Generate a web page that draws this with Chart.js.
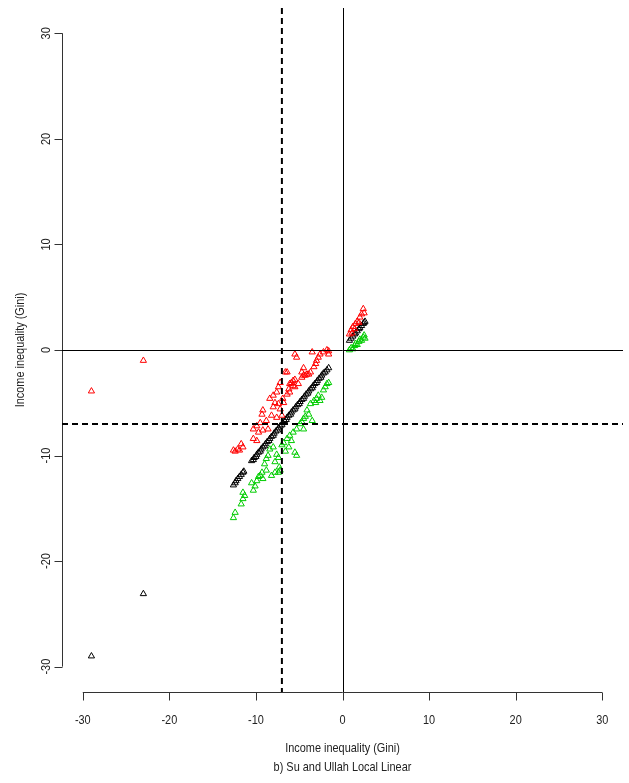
<!DOCTYPE html>
<html>
<head>
<meta charset="utf-8">
<script src="https://cdn.jsdelivr.net/npm/chart.js@4"></script>
<style>
  html, body { margin: 0; padding: 0; background: #fff; }
  #wrap { width: 629px; height: 783px; }
</style>
</head>
<body>
<div id="wrap"><canvas id="chart" width="629" height="783"></canvas></div>
<script>
const xTicks = [-30, -20, -10, 0, 10, 20, 30];
const yTicks = [-30, -20, -10, 0, 10, 20, 30];
const xTitle = "Income inequality (Gini)";
const yTitle = "Income inequality (Gini)";
const subTitle = "b) Su and Ullah Local Linear";

// black: the estimate
const blackX = [-29, -23,
  -12.6, -12.4, -12.3, -12.1, -11.9, -11.7, -11.5, -11.4,
  -10.5, -10.3, -10.2, -10.0, -9.9, -9.7, -9.5, -9.4, -9.2, -9.0, -8.9, -8.7, -8.5, -8.4, -8.2, -8.0,
  -7.9, -7.7, -7.5, -7.4, -7.2, -7.0, -6.9, -6.7, -6.5, -6.4, -6.2, -6.0, -5.9, -5.7, -5.5, -5.4,
  -5.2, -5.0, -4.9, -4.7, -4.5, -4.4, -4.2, -4.0, -3.9, -3.7, -3.5, -3.4, -3.2, -3.0, -2.9, -2.7,
  -2.5, -2.4, -2.2, -2.0, -1.8, -1.6,
  0.8, 1.0, 1.2, 1.4, 1.5, 1.7, 1.9, 2.0, 2.2, 2.4, 2.5, 2.6];
const blackY = [-29.0, -23.1,
  -12.8, -12.6, -12.4, -12.2, -12.0, -11.8, -11.6, -11.5,
  -10.5, -10.4, -10.2, -10.1, -9.9, -9.7, -9.6, -9.4, -9.2, -9.1, -8.9, -8.7, -8.6, -8.4, -8.2, -8.1,
  -7.9, -7.7, -7.6, -7.4, -7.2, -7.1, -6.9, -6.7, -6.6, -6.4, -6.2, -6.1, -5.9, -5.7, -5.6, -5.4,
  -5.2, -5.1, -4.9, -4.7, -4.6, -4.4, -4.2, -4.1, -3.9, -3.7, -3.6, -3.4, -3.2, -3.1, -2.9, -2.7,
  -2.6, -2.4, -2.2, -2.1, -1.9, -1.7,
  0.9, 1.1, 1.3, 1.5, 1.6, 1.8, 2.0, 2.1, 2.3, 2.5, 2.6, 2.7];

// red: upper band
const redX = [-29, -23,
  -1.6, -1.8, -2.2, -2.6, -1.6, -2.8, -3.0, -3.1, -3.3, -3.5, -3.7, -3.9, -4.1, -4.3, -4.5, -4.7,
  -4.5, -4.7, -5.5, -5.3, -5.1, -5.5, -5.5, -5.7, -5.9, -6.1, -5.7, -6.2, -6.1, -6.4, -6.4, -6.6,
  -6.8, -7.2, -7.4, -7.6, -8.0, -8.4, -7.8, -7.4, -7.2, -9.2, -9.3, -8.8, -9.5, -9.9, -10.3, -9.7,
  -9.2, -8.6, -10.3, -9.9, -11.7, -11.5, -12.1, -12.6, -12.4, -11.9, -8.2, -7.6, -7.0, -8.0, -6.9,
  0.8, 1.0, 1.1, 1.2, 1.4, 1.5, 1.7, 1.9, 2.0, 2.2, 2.4, 2.5];
const redY = [-3.9, -1.0,
  -0.1, 0.0, -0.2, -0.4, -0.4, -0.7, -1.0, -1.3, -1.6, -0.2, -2.1, -2.3, -2.3, -2.4, -2.4, -2.1,
  -1.7, -2.6, -0.4, -0.7, -3.2, -3.5, -2.8, -2.9, -3.1, -3.2, -3.4, -3.7, -4.0, -4.2, -2.1, -2.1,
  -5.0, -3.1, -3.5, -4.0, -4.3, -4.6, -5.0, -5.1, -5.6, -5.7, -6.1, -6.7, -6.9, -7.2, -7.5, -7.8,
  -7.6, -7.5, -8.4, -8.6, -8.9, -9.2, -9.4, -9.5, -9.6, -9.5, -6.2, -6.4, -6.2, -5.4, -4.6,
  1.5, 1.9, 1.6, 2.2, 2.0, 2.5, 2.7, 2.6, 3.1, 3.4, 3.9, 3.5];

// green: lower band
const greenX = [
  -12.6, -12.4, -11.7, -11.5, -11.3, -11.5, -10.3, -10.1, -9.9, -9.5, -9.2, -9.3, -8.8, -8.2, -7.8,
  -7.4, -7.2, -9.0, -8.8, -8.4, -8.0, -7.6, -7.4, -6.8, -6.4, -6.1, -5.7, -5.3, -4.9, -4.5, -4.1,
  -3.7, -3.3, -3.0, -2.6, -2.4, -2.0, -1.8, -1.6, -5.5, -5.3, -4.5, -3.5, -3.9, -6.6, -7.0, -6.2,
  -5.9, -4.7, -4.3, -3.1, -2.8, -2.2, -8.6, -7.8, -10.5, -9.7, -7.3,
  0.8, 1.0, 1.2, 1.4, 1.5, 1.7, 1.9, 2.0, 2.2, 2.4, 2.5, 2.6];
const greenY = [
  -15.9, -15.4, -14.6, -14.1, -13.8, -13.5, -13.3, -12.9, -12.4, -11.9, -12.2, -11.6, -11.4, -11.9, -11.6,
  -11.6, -11.4, -10.8, -10.3, -9.4, -9.2, -9.9, -10.2, -8.8, -8.4, -8.1, -7.8, -7.5, -7.0, -6.5, -5.7,
  -5.1, -4.8, -4.6, -4.8, -4.5, -3.5, -3.2, -3.1, -9.7, -10.0, -7.5, -6.7, -6.1, -9.6, -9.0, -9.2,
  -8.6, -6.8, -6.3, -5.0, -4.3, -3.8, -10.0, -10.6, -12.6, -12.0, -11.1,
  0.0, 0.2, 0.1, 0.4, 0.6, 0.5, 0.8, 1.0, 0.9, 1.2, 1.4, 1.1];

const solidX = [0];
const solidY = [0];
const dashX = [-7];
const dashY = [-7];

const FONT = "'Liberation Sans', Arial, sans-serif";

function pts(xs, ys) {
  return xs.map((x, i) => ({ x: x, y: ys[i] }));
}

function series(label, xs, ys, color) {
  return {
    label: label,
    data: pts(xs, ys),
    pointStyle: 'triangle',
    pointRadius: 3.6,
    pointHoverRadius: 3.6,
    pointBorderWidth: 1,
    borderColor: color,
    backgroundColor: 'rgba(0,0,0,0)',
    showLine: false
  };
}

// narrow text like the R device: squeeze horizontally
function narrowText(ctx, txt, x, y, rot) {
  ctx.save();
  ctx.translate(x, y);
  if (rot) ctx.rotate(rot);
  ctx.scale(0.84, 1);
  ctx.fillText(txt, 0, 0);
  ctx.restore();
}

const rAxes = {
  id: 'rAxes',
  beforeDatasetsDraw(chart) {
    const ctx = chart.ctx;
    const xs = chart.scales.x, ys = chart.scales.y;
    const area = chart.chartArea;
    ctx.save();
    ctx.strokeStyle = '#333';
    ctx.fillStyle = '#222';
    ctx.lineWidth = 1;
    ctx.font = '13px ' + FONT;

    // x axis
    const yb = area.bottom + 0.5;
    ctx.beginPath();
    ctx.moveTo(xs.getPixelForValue(xTicks[0]), yb);
    ctx.lineTo(xs.getPixelForValue(xTicks[xTicks.length - 1]), yb);
    xTicks.forEach(t => {
      const px = Math.round(xs.getPixelForValue(t)) + 0.5;
      ctx.moveTo(px, yb);
      ctx.lineTo(px, yb + 8);
    });
    ctx.stroke();
    ctx.textAlign = 'center';
    ctx.textBaseline = 'middle';
    xTicks.forEach(t => {
      narrowText(ctx, String(t), xs.getPixelForValue(t), area.bottom + 28, 0);
    });

    // y axis
    const xl = area.left + 0.5;
    ctx.beginPath();
    ctx.moveTo(xl, ys.getPixelForValue(yTicks[0]));
    ctx.lineTo(xl, ys.getPixelForValue(yTicks[yTicks.length - 1]));
    yTicks.forEach(t => {
      const py = Math.round(ys.getPixelForValue(t)) + 0.5;
      ctx.moveTo(xl, py);
      ctx.lineTo(xl - 8, py);
    });
    ctx.stroke();
    yTicks.forEach(t => {
      narrowText(ctx, String(t), area.left - 16, ys.getPixelForValue(t), -Math.PI / 2);
    });

    // titles
    const cx = (area.left + area.right) / 2;
    narrowText(ctx, xTitle, cx, area.bottom + 56, 0);
    narrowText(ctx, subTitle, cx, area.bottom + 75, 0);
    narrowText(ctx, yTitle, area.left - 42, (area.top + area.bottom) / 2, -Math.PI / 2);
    ctx.restore();
  },
  afterDatasetsDraw(chart) {
    const ctx = chart.ctx;
    const xs = chart.scales.x, ys = chart.scales.y;
    const area = chart.chartArea;
    ctx.save();
    ctx.strokeStyle = '#000';
    ctx.lineWidth = 1;
    ctx.beginPath();
    solidX.forEach(v => {
      const px = Math.round(xs.getPixelForValue(v)) + 0.5;
      ctx.moveTo(px, area.top);
      ctx.lineTo(px, area.bottom);
    });
    solidY.forEach(v => {
      const py = Math.round(ys.getPixelForValue(v)) + 0.5;
      ctx.moveTo(area.left, py);
      ctx.lineTo(area.right, py);
    });
    ctx.stroke();
    ctx.lineWidth = 2;
    ctx.setLineDash([6, 4]);
    ctx.beginPath();
    dashX.forEach(v => {
      const px = xs.getPixelForValue(v);
      ctx.moveTo(px, area.top);
      ctx.lineTo(px, area.bottom);
    });
    dashY.forEach(v => {
      const py = ys.getPixelForValue(v);
      ctx.moveTo(area.left, py);
      ctx.lineTo(area.right, py);
    });
    ctx.stroke();
    ctx.restore();
  }
};

new Chart(document.getElementById('chart'), {
  type: 'scatter',
  data: {
    datasets: [
      series('upper', redX, redY, '#ff0000'),
      series('lower', greenX, greenY, '#00cc00'),
      series('estimate', blackX, blackY, '#000000')
    ]
  },
  options: {
    responsive: false,
    animation: false,
    layout: { padding: { left: 62, right: 6, top: 8, bottom: 91 } },
    scales: {
      x: { type: 'linear', min: -32.4, max: 32.4, display: false },
      y: { type: 'linear', min: -32.4, max: 32.4, display: false }
    },
    plugins: {
      legend: { display: false },
      tooltip: { enabled: false }
    }
  },
  plugins: [rAxes]
});
</script>
</body>
</html>
